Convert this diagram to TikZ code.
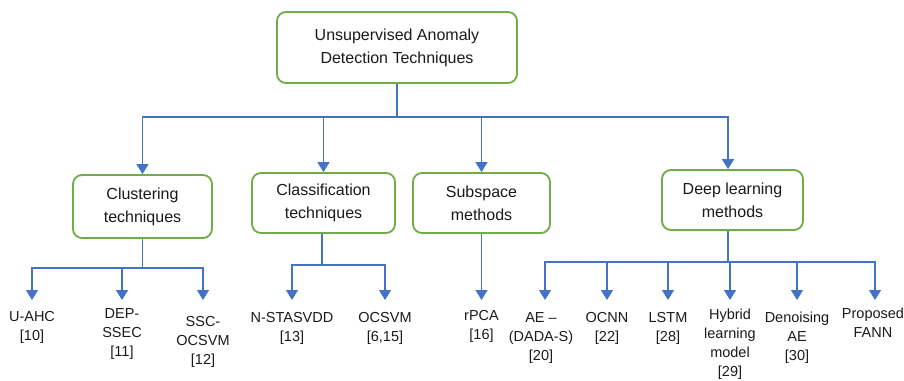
\documentclass[tikz,border=0pt]{standalone}
\usepackage{fontspec}
\setmainfont{Liberation Sans}
\usetikzlibrary{arrows.meta}
\definecolor{boxgreen}{HTML}{70AD47}
\definecolor{arrblue}{HTML}{4472C4}
\definecolor{txt}{HTML}{1A1A1A}
\begin{document}
\begin{tikzpicture}[x=1pt,y=-1pt,
  catbox/.style={draw=boxgreen,line width=1.8pt,rounded corners=9pt,fill=white,
    align=center,text=txt,font=\fontsize{16}{23}\selectfont,inner sep=0pt},
  leaf/.style={anchor=north,align=center,text=txt,inner sep=0pt,
    font=\fontsize{14.5}{19}\selectfont},
  conn/.style={draw=arrblue,line width=1.4pt},
  arr/.style={conn,-{Triangle[length=10pt,width=12pt]}}]
\useasboundingbox (0,0) rectangle (904,380);
% category boxes
\node[catbox,minimum width=240pt,minimum height=71pt] (root) at (397,47.5) {Unsupervised Anomaly\\Detection Techniques};
\node[catbox,minimum width=139pt,minimum height=63pt] (clus) at (142.5,206.5) {Clustering\\techniques};
\node[catbox,minimum width=143pt,minimum height=60pt] (class) at (323.5,203) {Classification\\techniques};
\node[catbox,minimum width=137pt,minimum height=60pt] (sub) at (481.5,203) {Subspace\\methods};
\node[catbox,minimum width=141pt,minimum height=60pt] (deep) at (732.5,200) {Deep learning\\methods};
% junctions
\coordinate (mainbar) at (397,117);
\coordinate (clusbar) at (142.5,268);
\coordinate (classbar) at (322,265);
\coordinate (deepbar) at (728,262);
% leaves
\node[leaf] (uahc) at (32,311) {U-AHC\\{[10]}};
\node[leaf] (dep) at (122,308) {DEP-\\SSEC\\{[11]}};
\node[leaf] (ssc) at (203,316) {SSC-\\OCSVM\\{[12]}};
\node[leaf] (nst) at (292,312) {N-STASVDD\\{[13]}};
\node[leaf] (ocsvm) at (385,312) {OCSVM\\{[6,15]}};
\node[leaf] (rpca) at (481.5,310) {rPCA\\{[16]}};
\node[leaf] (ae) at (541,312) {AE --\\(DADA-S)\\{[20]}};
\node[leaf] (ocnn) at (607,312) {OCNN\\{[22]}};
\node[leaf] (lstm) at (668,312) {LSTM\\{[28]}};
\node[leaf] (hyb) at (730,309) {Hybrid\\learning\\model\\{[29]}};
\node[leaf] (dae) at (797,312) {Denoising\\AE\\{[30]}};
\node[leaf] (fann) at (873,308) {Proposed\\FANN};
% top level connectors
\draw[conn] (root.south) -- (mainbar);
\draw[arr] (mainbar) -| (clus.north);
\draw[arr] (mainbar) -| (class.north);
\draw[arr] (mainbar) -| (sub.north);
\draw[arr] (mainbar) -| ([xshift=-4.5pt]deep.north);
% clustering
\draw[conn] (clus.south) -- (clusbar);
\draw[arr,shorten >=11pt] (clusbar) -| (uahc.north);
\draw[arr,shorten >=8pt] (clusbar) -| (dep.north);
\draw[arr,shorten >=16pt] (clusbar) -| (ssc.north);
% classification
\draw[conn] (class.south -| classbar) -- (classbar);
\draw[arr,shorten >=12pt] (classbar) -| (nst.north);
\draw[arr,shorten >=12pt] (classbar) -| (ocsvm.north);
% subspace
\draw[arr,shorten >=10pt] (sub.south) -- (rpca.north);
% deep learning
\draw[conn] (deep.south -| deepbar) -- (deepbar);
\draw[arr,shorten >=12pt] (deepbar) -| ([xshift=4pt]ae.north);
\draw[arr,shorten >=12pt] (deepbar) -| (ocnn.north);
\draw[arr,shorten >=12pt] (deepbar) -| (lstm.north);
\draw[arr,shorten >=9pt] (deepbar) -| (hyb.north);
\draw[arr,shorten >=12pt] (deepbar) -| (dae.north);
\draw[arr,shorten >=8pt] (deepbar) -| ([xshift=2pt]fann.north);
\end{tikzpicture}
\end{document}
